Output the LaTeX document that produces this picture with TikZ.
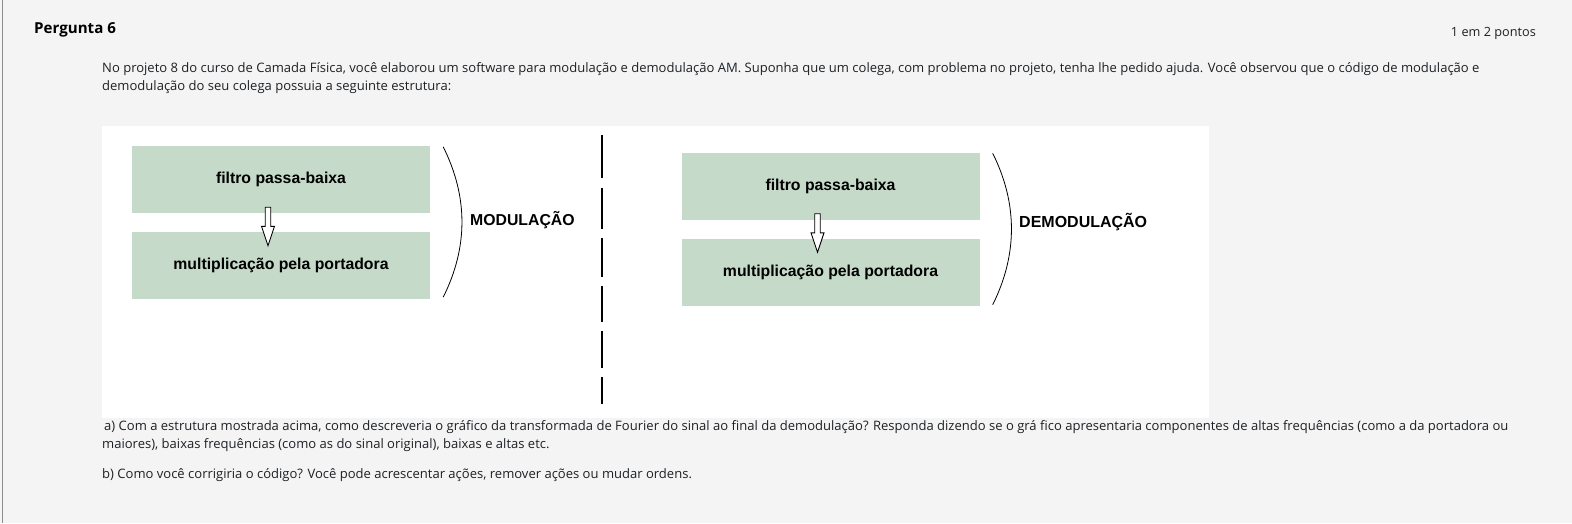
\documentclass[tikz,border=0pt]{standalone}
\usepackage{fontspec}
\setmainfont{Open Sans}
\newfontfamily\arialfont{Liberation Sans}
\usetikzlibrary{calc}
\definecolor{fundo}{RGB}{244,244,244}
\definecolor{borda}{RGB}{140,140,140}
\definecolor{texto}{RGB}{29,33,37}
\definecolor{verde}{RGB}{197,218,200}
% hollow block arrow from one box to the next
\def\setaoca(#1)(#2){%
  \coordinate (sA) at ($(#1)+(-13,-6)$);
  \coordinate (sB) at ($(#2)+(-13,14)$);
  \draw[fill=white, line width=0.9pt, line join=miter]
    ($(sA)+(-2.75,0)$) -- ($(sA)+(2.75,0)$) -- ($(sB)+(2.75,-19.5)$)
    -- ($(sB)+(6.5,-19.5)$) -- (sB) -- ($(sB)+(-6.5,-19.5)$)
    -- ($(sB)+(-2.75,-19.5)$) -- cycle;}

\begin{document}
\begin{tikzpicture}[x=1pt, y=-1pt,
    bloco/.style={fill=verde, minimum width=298pt, minimum height=67pt, inner sep=0pt,
      font=\arialfont\bfseries\fontsize{15.8}{18}\selectfont, text=black},
    rotulo/.style={anchor=west, inner sep=0pt, font=\arialfont\bfseries\fontsize{15.8}{18}\selectfont, text=black},
    linha/.style={anchor=west, inner sep=0pt, text=texto, font=\fontsize{13.03}{15}\selectfont}]
  %%%%% PAGE %%%%%
  \useasboundingbox (0,0) rectangle (1572,523);
  \fill[fundo] (0,0) rectangle (1572,523);
  \draw[borda, line width=1pt] (2.5,0) -- (2.5,523);

  \node[anchor=west, inner sep=0pt, text=black, font=\bfseries\fontsize{15.1}{17}\selectfont] (titulo) at (34,30) {Pergunta 6};
  \node[anchor=east, inner sep=0pt, text=texto, font=\fontsize{12.7}{15}\selectfont] (pontos) at (1536,33) {1 em 2 pontos};

  \node[linha] (enunc1) at (102,69) {No projeto 8 do curso de Camada Física, você elaborou um software para modulação e demodulação AM. Suponha que um colega, com problema no projeto, tenha lhe pedido ajuda. Você observou que o código de modulação e};
  \node[linha] (enunc2) at (102,87) {demodulação do seu colega possuia a seguinte estrutura:};

  %%%%% DIAGRAM %%%%%
  \fill[white] (102,126) rectangle (1209,418);

  \node[bloco] (filtroMod) at (281,179.5) {filtro passa-baixa};
  \node[bloco] (multMod) at (281,265.5) {multiplicação pela portadora};
  \setaoca(filtroMod.south)(multMod.north)

  \node[bloco] (filtroDemod) at (830.5,186) {filtro passa-baixa};
  \node[bloco] (multDemod) at (830.5,272) {multiplicação pela portadora};
  \setaoca(filtroDemod.south)(multDemod.north)

  \draw[line width=0.8pt] ($(filtroMod.north east)+(13,1)$) .. controls +(25,50) and +(25,-50) .. ($(multMod.south east)+(13,-2)$);
  \node[rotulo] (modulacao) at (470,220.5) {MODULAÇÃO};

  \draw[line width=0.8pt] ($(filtroDemod.north east)+(13,1)$) .. controls +(25,50) and +(25,-50) .. ($(multDemod.south east)+(13,-1)$);
  \node[rotulo, font=\arialfont\bfseries\fontsize{16}{18}\selectfont] (demodulacao) at (1019,222) {DEMODULAÇÃO};

  \foreach \ya/\yb in {135/178,188/229,238/277,286/322,331/368,377/404}
    \draw[line width=1.3pt] (602,\ya) -- (602,\yb);

  %%%%% QUESTIONS %%%%%
  \node[linha] (itemA1) at (104,427) {a) Com a estrutura mostrada acima, como descreveria o gráfico da transformada de Fourier do sinal ao final da demodulação? Responda dizendo se o grá fico apresentaria componentes de altas frequências (como a da portadora ou};
  \node[linha] (itemA2) at (102,445) {maiores), baixas frequências (como as do sinal original), baixas e altas etc.};
  \node[linha] (itemB) at (102,475) {b) Como você corrigiria o código? Você pode acrescentar ações, remover ações ou mudar ordens.};
\end{tikzpicture}
\end{document}
